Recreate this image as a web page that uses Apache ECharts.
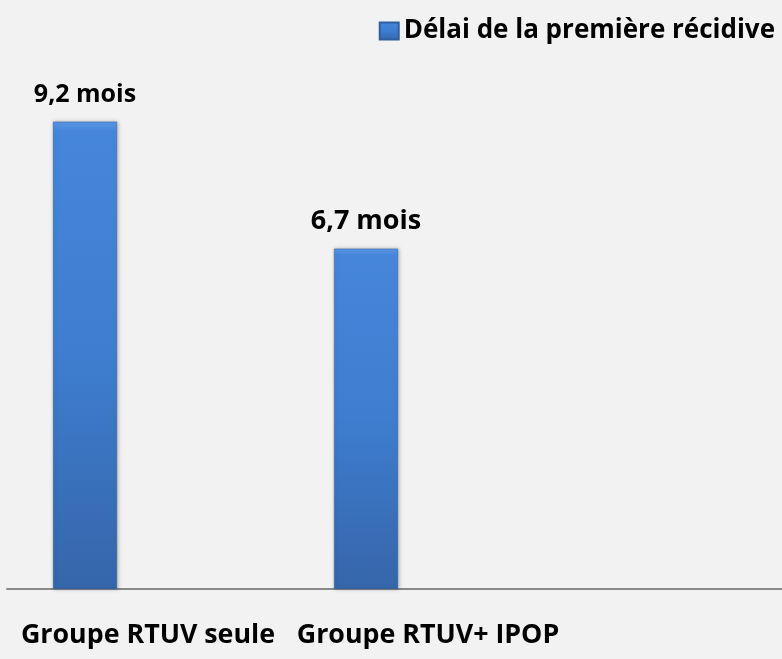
<!DOCTYPE html>
<html>
<head>
<meta charset="utf-8">
<script src="https://cdn.jsdelivr.net/npm/echarts@6/dist/echarts.min.js"></script>
<style>
  html, body { margin: 0; padding: 0; background: #f2f2f2; }
  #main { width: 782px; height: 659px; }
</style>
</head>
<body>
<div id="main"></div>
<script>
// données
var categories = ['Groupe RTUV seule', 'Groupe RTUV+ IPOP'];
var delais = [9.2, 6.7];
var labelSizes = [25, 27];
var serieName = 'Délai de la première récidive';

var myChart = echarts.init(document.getElementById('main'));

var barColor = new echarts.graphic.LinearGradient(0, 0, 0, 1, [
  { offset: 0, color: '#5a97e6' },
  { offset: 0.02, color: '#4686da' },
  { offset: 0.5, color: '#3e7dcf' },
  { offset: 1, color: '#3566aa' }
]);

var barData = delais.map(function (v, i) {
  return {
    value: v,
    label: { fontSize: labelSizes[i] }
  };
});

var font = 'Open Sans';

var option = {
  backgroundColor: '#f2f2f2',
  textStyle: { fontFamily: font },
  legend: {
    data: [serieName],
    right: 2,
    top: 13,
    itemWidth: 19,
    itemHeight: 17,
    itemGap: 12,
    icon: 'rect',
    textStyle: { fontSize: 26, fontWeight: 'bold', color: '#000', fontFamily: font }
  },
  grid: [
    // barres (catégories aux bords)
    { left: 85, width: 281, top: 81, bottom: 70 },
    // étiquettes des catégories
    { left: 148, width: 280, top: 81, bottom: 70 },
    // ligne d'axe
    { left: 7, right: 0, top: 81, bottom: 70 }
  ],
  xAxis: [
    {
      gridIndex: 0, type: 'category', data: categories, boundaryGap: false,
      axisLine: { show: false }, axisTick: { show: false }, axisLabel: { show: false }
    },
    {
      gridIndex: 1, type: 'category', data: categories, boundaryGap: false,
      axisLine: { show: false }, axisTick: { show: false },
      axisLabel: { fontSize: 26.8, fontWeight: 'bold', color: '#000', margin: 33, interval: 0, fontFamily: font }
    },
    {
      gridIndex: 2, type: 'value', min: 0, max: 1,
      axisLine: { show: true, lineStyle: { color: '#898989', width: 2 } },
      axisTick: { show: false }, axisLabel: { show: false }, splitLine: { show: false }
    }
  ],
  yAxis: [
    { gridIndex: 0, type: 'value', min: 0, max: 10, show: false },
    { gridIndex: 1, type: 'value', min: 0, max: 10, show: false },
    { gridIndex: 2, type: 'value', min: 0, max: 10, show: false }
  ],
  series: [
    {
      name: serieName,
      type: 'bar',
      xAxisIndex: 0,
      yAxisIndex: 0,
      barWidth: 64,
      clip: false,
      data: barData,
      itemStyle: {
        color: barColor,
        borderColor: '#2f5f9e',
        borderWidth: 0.5,
        shadowColor: 'rgba(0,0,0,0.25)',
        shadowBlur: 4,
        shadowOffsetX: 1
      },
      label: {
        show: true,
        position: 'top',
        distance: 14,
        fontWeight: 'bold',
        color: '#000',
        fontFamily: font,
        formatter: function (p) {
          return String(p.value).replace('.', ',') + ' mois';
        }
      }
    }
  ]
};

myChart.setOption(option);
</script>
</body>
</html>
